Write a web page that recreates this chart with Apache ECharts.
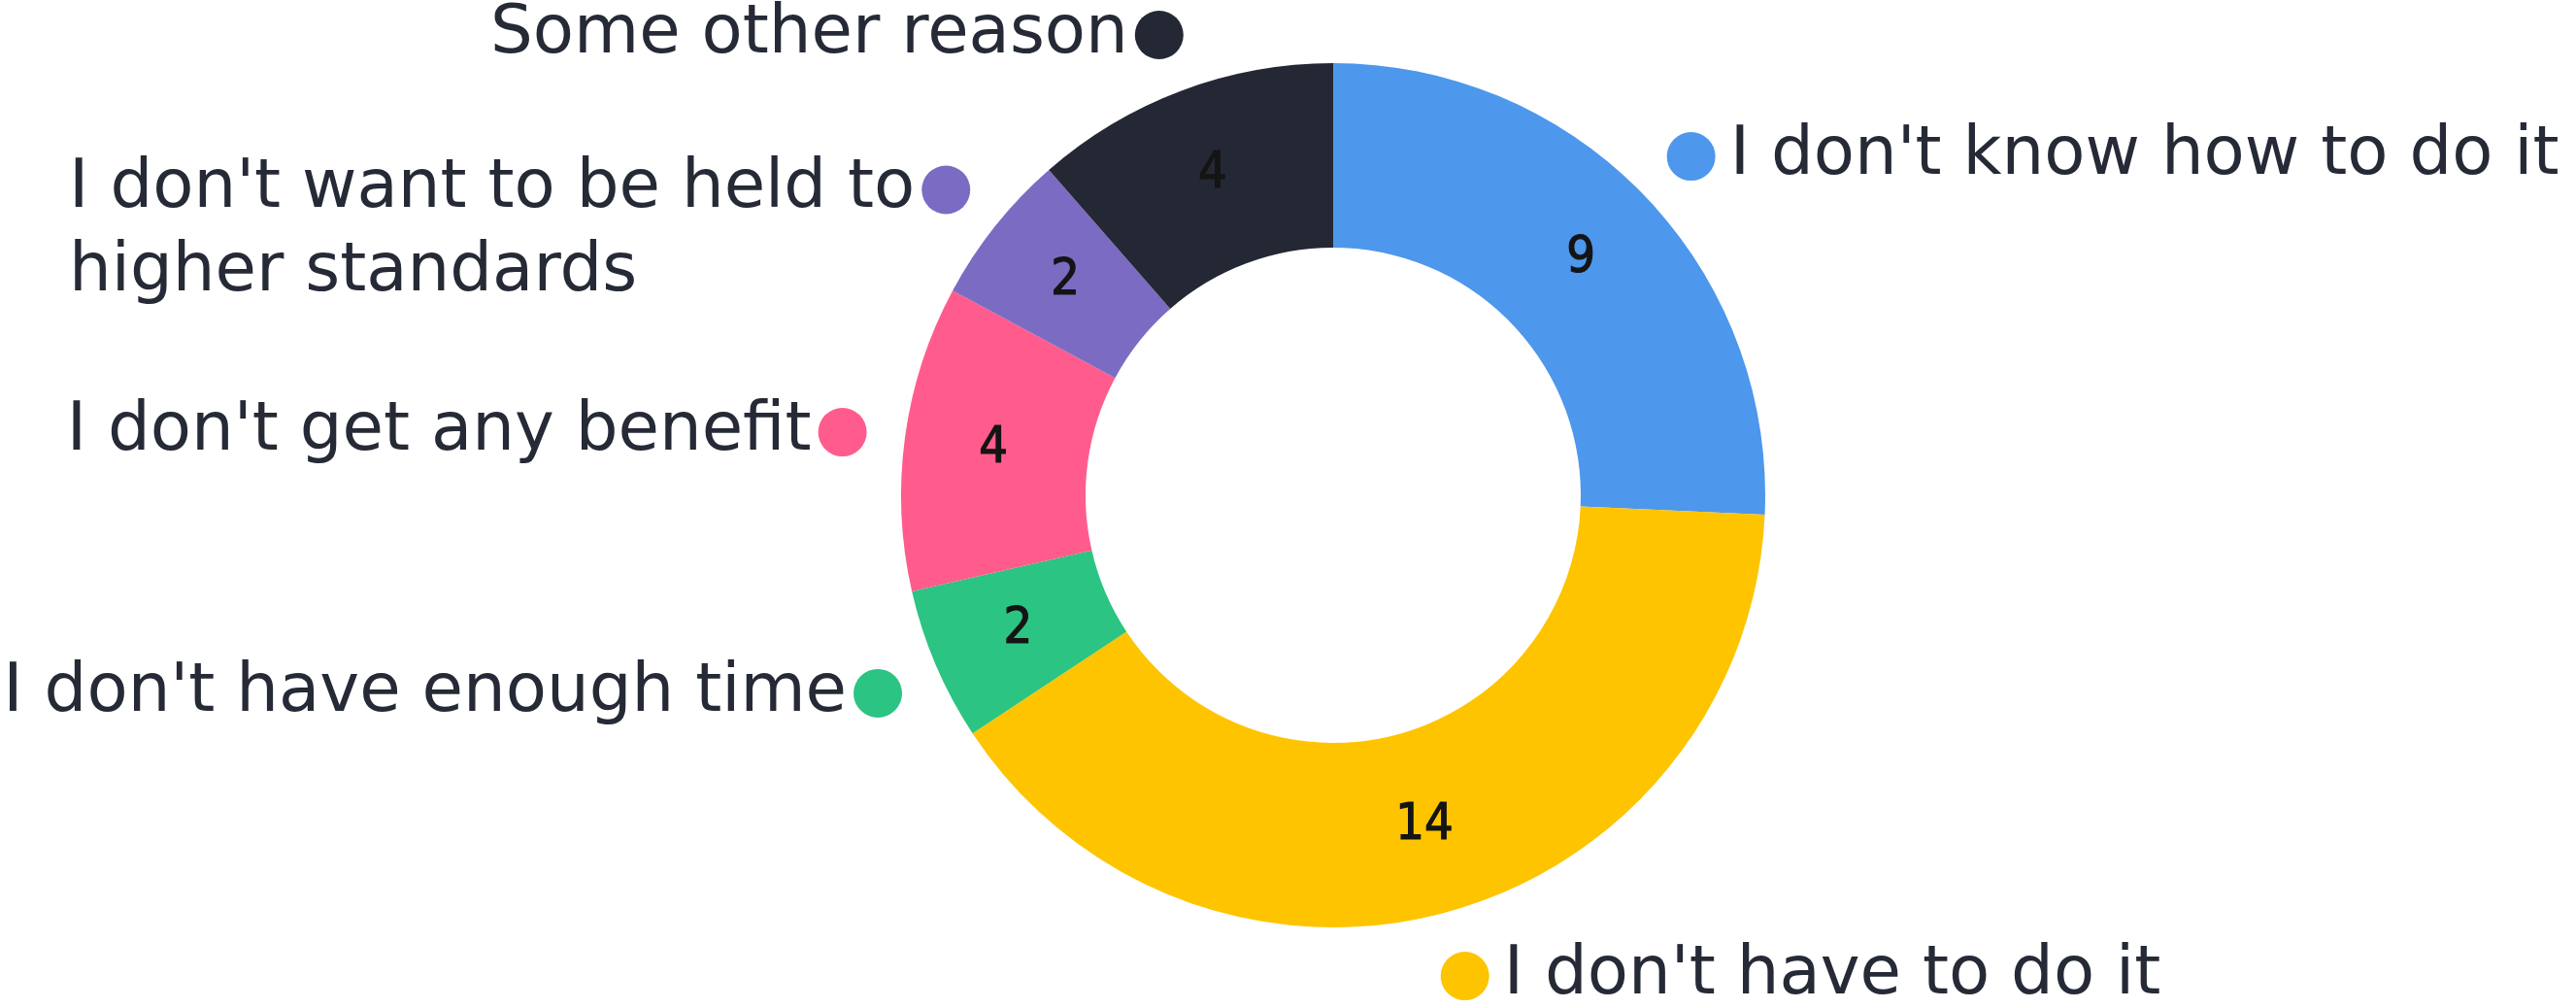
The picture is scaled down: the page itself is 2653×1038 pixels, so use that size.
<!DOCTYPE html>
<html>
<head>
<meta charset="utf-8">
<script src="https://cdn.jsdelivr.net/npm/echarts@6/dist/echarts.min.js"></script>
<style>
  html, body { margin: 0; padding: 0; background: #ffffff; }
  #chart { width: 2653px; height: 1038px; }
</style>
</head>
<body>
<div id="chart"></div>
<script>
const categories = [
  "I don't know how to do it",
  "I don't have to do it",
  "I don't have enough time",
  "I don't get any benefit",
  "I don't want to be held to\nhigher standards",
  "Some other reason"
];
const values = [9, 14, 2, 4, 2, 4];
const colors = ['#4D97EC', '#FEC400', '#2BC482', '#FF5C8D', '#7C6BC3', '#242834'];

const total = values.reduce((a, b) => a + b, 0);
let cum = 0;
const midFrac = values.map(v => { const m = cum + v / 2; cum += v; return m / total; });

const LINE_H = 86;
const DOT = 50;
const Y_SHIFT = 12;

const rich = {
  t: { fontFamily: 'DejaVu Sans', fontSize: 69, color: '#252A36', lineHeight: LINE_H, verticalAlign: 'middle', align: 'left' },
  gR: { width: 15, height: 10, lineHeight: LINE_H, align: 'left' },
  gL: { width: 7, height: 10, lineHeight: LINE_H, align: 'left' }
};
colors.forEach((c, i) => {
  rich['dot' + i] = { width: DOT, height: DOT, borderRadius: DOT / 2, backgroundColor: c, lineHeight: LINE_H, verticalAlign: 'middle', align: 'left' };
});

const data = categories.map((n, i) => ({ name: n, value: values[i], itemStyle: { color: colors[i] } }));

const chart = echarts.init(document.getElementById('chart'), null, { renderer: 'canvas' });
const VIEW_PAD = 400;
chart.setOption({
  backgroundColor: '#ffffff',
  animation: false,
  series: [
    {
      type: 'pie',
      left: -VIEW_PAD, top: -VIEW_PAD, right: -VIEW_PAD, bottom: -VIEW_PAD,
      center: [1373 + VIEW_PAD, 510 + VIEW_PAD],
      radius: [255, 445],
      startAngle: 90,
      clockwise: true,
      silent: true,
      avoidLabelOverlap: false,
      data: data,
      label: {
        show: true,
        position: 'outside',
        distanceToLabelLine: 0,
        rich: rich,
        formatter: function (p) {
          const i = p.dataIndex;
          const lines = p.name.split('\n');
          if (midFrac[i] < 0.5) {
            return '{dot' + i + '|}{gR|}' + lines.map(l => '{t|' + l + '}').join('\n');
          }
          let s = '{t|' + lines[0] + '}{gL|}{dot' + i + '|}';
          for (let k = 1; k < lines.length; k++) s += '\n{t|' + lines[k] + '}';
          return s;
        }
      },
      labelLine: { show: false, length: 65, length2: 0 },
      labelLayout: function (params) {
        const isRight = params.align === 'right';
        return {
          dx: isRight ? DOT / 2 : -DOT / 2,
          dy: (params.labelRect.height - LINE_H) / 2 + Y_SHIFT
        };
      }
    },
    {
      type: 'pie',
      left: -VIEW_PAD, top: -VIEW_PAD, right: -VIEW_PAD, bottom: -VIEW_PAD,
      center: [1373 + VIEW_PAD, 510 + VIEW_PAD],
      radius: [255, 445],
      startAngle: 90,
      clockwise: true,
      silent: true,
      data: data.map(d => ({ name: d.name, value: d.value, itemStyle: { color: 'rgba(0,0,0,0)' } })),
      label: {
        show: true,
        position: 'inside',
        formatter: '{c}',
        fontFamily: "'Liberation Sans Narrow', 'DejaVu Sans Condensed', sans-serif",
        fontSize: 52,
        color: '#141414',
        textBorderColor: '#141414',
        textBorderWidth: 1.2
      },
      labelLine: { show: false }
    }
  ]
});
</script>
</body>
</html>
